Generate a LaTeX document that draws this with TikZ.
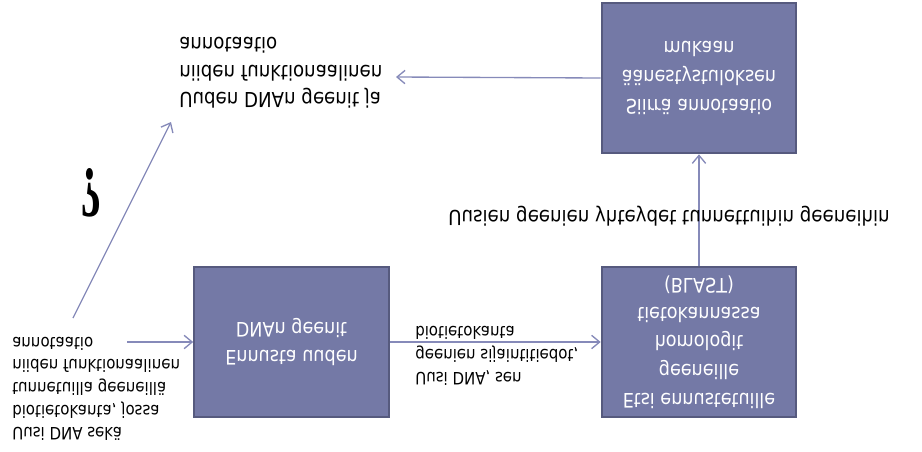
\documentclass[tikz,border=0pt]{standalone}
\usepackage{fontspec}
\setmainfont{DejaVu Sans}[FakeStretch=0.88]
\newfontfamily\qmarkfont{Liberation Serif}
\usetikzlibrary{arrows.meta}

\definecolor{boxfill}{RGB}{116,121,166}
\definecolor{boxline}{RGB}{86,90,126}
\definecolor{arrowcol}{RGB}{134,138,185}

\begin{document}
\begin{tikzpicture}[x=0.75pt, y=0.75pt, yscale=-1,
	every node/.append style={transform shape},
	box/.style={draw=boxline, line width=1.5pt, fill=boxfill, text=white, align=center,
		minimum width=146pt, minimum height=113pt, font=\fontsize{15}{21.5}\selectfont},
	note/.style={align=left, inner sep=0pt, font=\fontsize{12.8}{17}\selectfont},
	bignote/.style={align=left, inner sep=0pt, font=\fontsize{15.5}{20.5}\selectfont},
	arr/.style={draw=arrowcol, line width=1pt, -{Straight Barb[length=6pt, width=10pt]}}]

	\useasboundingbox (0,0) rectangle (922,451);

	% steps
	\node[box] (predict) at (291.5,342) {Ennusta uuden\\DNAn geenit};
	\node[box] (search) at (699,342) {Etsi ennustetuille\\geeneille\\homologit\\tietokannassa\\(BLAST)};
	\node[box] (transfer) at (699,78) {Siirrä annotaatio\\äänestystuloksen\\mukaan};

	% start and result texts
	\node[note, anchor=west] (input) at (12,389) {Uusi DNA sekä\\biotietokanta, jossa\\tunnetuilla geeneillä\\niiden funktionaalinen\\annotaatio};
	\node[bignote, anchor=west] (result) at (179,73) {Uuden DNAn geenit ja\\niiden funktionaalinen\\annotaatio};

	\coordinate (inStart) at (127,342);
	\coordinate (resEnd) at (396,77);
	\coordinate (qStart) at (73,318);
	\coordinate (qEnd) at (171,122);

	\draw[arr] (inStart) -- (predict.west);
	\draw[arr] (predict.east) -- (search.west);
	\draw[arr] (search) -- (transfer);
	\draw[arr] (transfer.west) -- (resEnd);
	\draw[arr] (qStart) -- (qEnd);

	% labels
	\node[note, anchor=west] (posLabel) at (415,356) {Uusi DNA, sen\\geenien sijaintitiedot,\\biotietokanta};
	\node[bignote, align=center] (linkLabel) at (669,216) {Uusien geenien yhteydet tunnettuihin geeneihin};
	\node[xscale=0.6, font=\qmarkfont\bfseries\fontsize{54}{54}\selectfont] (qmark) at (91,193) {?};

\end{tikzpicture}
\end{document}
